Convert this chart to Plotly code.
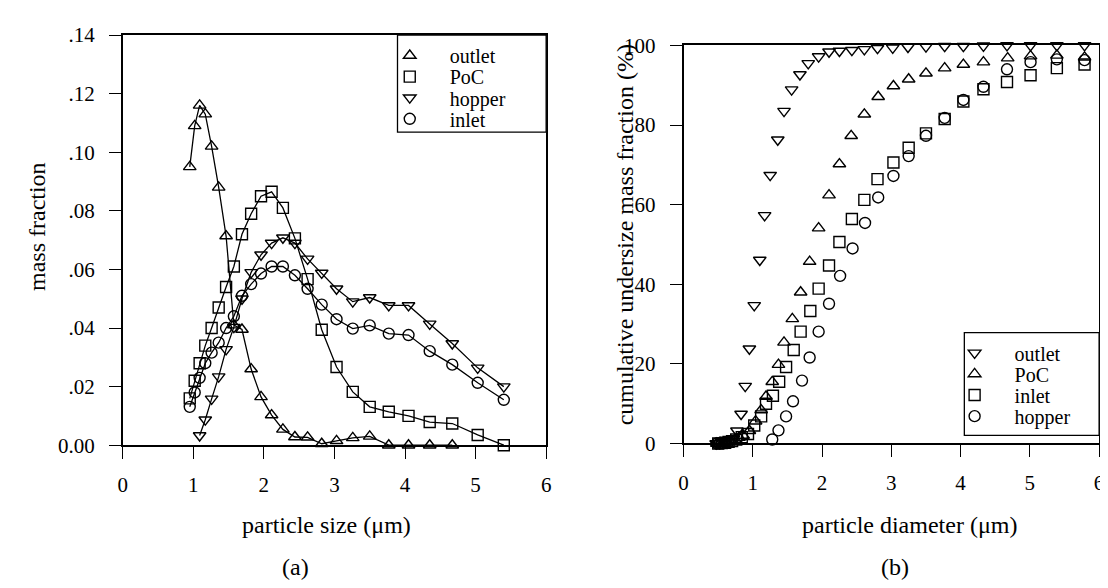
import plotly.graph_objects as go

W, H = 1108, 588

# ---------------- panel (a): mass fraction vs particle size ----------------
size_bins = [0.95, 1.02, 1.09, 1.17, 1.26, 1.36, 1.465, 1.575, 1.69, 1.82, 1.96, 2.11, 2.27,
             2.44, 2.62, 2.82, 3.03, 3.26, 3.50, 3.77, 4.05, 4.35, 4.67, 5.03, 5.40]

a_outlet_x = size_bins[:23]
a_outlet_y = [0.095, 0.109, 0.116, 0.113, 0.102, 0.088, 0.0714, 0.041, 0.0395, 0.026, 0.0165,
              0.0103, 0.0054, 0.0028, 0.0027, 0.0005, 0.0015, 0.0025, 0.003, 0.0, 0.0, 0.0, 0.0]

a_poc_x = size_bins
a_poc_y = [0.016, 0.022, 0.028, 0.034, 0.040, 0.047, 0.054, 0.061, 0.072, 0.079, 0.085, 0.0865,
           0.081, 0.0706, 0.0567, 0.0394, 0.0267, 0.0182, 0.0131, 0.0114, 0.0100, 0.0079, 0.0074,
           0.0035, 0.0]

a_hopper_x = size_bins[2:]
a_hopper_y = [0.0033, 0.0087, 0.0158, 0.0234, 0.0327, 0.0403, 0.050, 0.059, 0.065, 0.069, 0.0708,
              0.069, 0.0636, 0.0588, 0.0534, 0.049, 0.0504, 0.0477, 0.0477, 0.0414, 0.0347, 0.0264,
              0.020]

a_inlet_x = size_bins
a_inlet_y = [0.0131, 0.018, 0.023, 0.028, 0.0316, 0.035, 0.040, 0.044, 0.051, 0.055, 0.0586, 0.061,
             0.061, 0.058, 0.0534, 0.048, 0.043, 0.0398, 0.0409, 0.0381, 0.0376, 0.0321, 0.0275,
             0.0213, 0.0155]

a_yticks = [0, 0.02, 0.04, 0.06, 0.08, 0.10, 0.12, 0.14]
a_yticktext = ["0.00", ".02", ".04", ".06", ".08", ".10", ".12", ".14"]

# ---------------- panel (b): cumulative undersize vs diameter ----------------
b_outlet_x = [0.47, 0.52, 0.57, 0.62, 0.67, 0.72, 0.77, 0.83, 0.89, 0.95, 1.02, 1.10, 1.17, 1.25,
              1.36, 1.45, 1.56, 1.68, 1.80, 1.95, 2.10, 2.25, 2.43, 2.61, 2.80, 3.02, 3.24, 3.50,
              3.77, 4.04, 4.33, 4.67, 5.01, 5.39, 5.79]
b_outlet_y = [0.0, 0.1, 0.2, 0.4, 0.7, 1.2, 3.2, 7.4, 14.4, 23.8, 34.7, 46.1, 57.3, 67.4, 76.3,
              83.5, 88.9, 92.7, 95.5, 97.2, 98.4, 98.6, 98.8, 99.0, 99.3, 99.4, 99.6, 99.7, 99.8,
              99.8, 99.9, 100, 100, 100, 100]

b_poc_x = [0.48, 0.53, 0.58, 0.63, 0.68, 0.74, 0.80, 0.86, 0.95, 1.04, 1.12, 1.19, 1.28, 1.37,
           1.45, 1.57, 1.69, 1.82, 1.95, 2.10, 2.25, 2.42, 2.61, 2.81, 3.03, 3.25, 3.50, 3.77,
           4.04, 4.33, 4.68, 5.01, 5.39, 5.79]
b_poc_y = [0.0, 0.1, 0.2, 0.4, 0.7, 1.0, 1.5, 2.0, 3.2, 5.6, 8.4, 11.8, 15.5, 19.8, 25.4, 31.3,
           38.0, 45.7, 54.1, 62.4, 70.2, 77.3, 82.7, 87.1, 89.8, 91.5, 93.0, 94.3, 95.2, 95.8,
           96.8, 97.3, 97.5, 97.0]

b_inlet_x = [0.50, 0.55, 0.60, 0.65, 0.70, 0.76, 0.84, 0.93, 1.02, 1.12, 1.19, 1.29, 1.38, 1.48,
             1.59, 1.69, 1.83, 1.95, 2.10, 2.25, 2.43, 2.61, 2.80, 3.03, 3.25, 3.50, 3.77, 4.04,
             4.33, 4.67, 5.01, 5.39, 5.79]
b_inlet_y = [0.0, 0.1, 0.2, 0.4, 0.6, 1.0, 1.6, 2.4, 4.5, 6.8, 10.0, 12.0, 15.5, 19.2, 23.5, 28.1,
             33.3, 38.9, 44.7, 50.6, 56.4, 61.2, 66.4, 70.6, 74.3, 77.9, 81.5, 85.9, 89.0, 90.8,
             92.5, 94.3, 95.2]

b_hopper_x = [0.48, 0.52, 0.56, 0.60, 0.64, 1.28, 1.37, 1.48, 1.58, 1.71, 1.82, 1.95, 2.10, 2.26,
              2.44, 2.62, 2.81, 3.03, 3.25, 3.50, 3.77, 4.04, 4.33, 4.67, 5.01, 5.39, 5.79]
b_hopper_y = [0.0, 0.0, 0.1, 0.2, 0.3, 1.0, 3.3, 6.8, 10.6, 15.8, 21.6, 28.1, 35.1, 42.1, 49.0,
              55.4, 61.8, 67.2, 72.2, 77.3, 81.8, 86.3, 89.6, 94.0, 95.8, 96.5, 96.3]

x_ticks = [0, 1, 2, 3, 4, 5, 6]
b_yticks = [0, 20, 40, 60, 80, 100]

FONT = "Liberation Serif"


def fx(p):
    return p / W


def fy(p):
    return 1 - p / H


fig = go.Figure()

a_series = [
    ("outlet", a_outlet_x, a_outlet_y, "triangle-up-open"),
    ("PoC", a_poc_x, a_poc_y, "square-open"),
    ("hopper", a_hopper_x, a_hopper_y, "triangle-down-open"),
    ("inlet", a_inlet_x, a_inlet_y, "circle-open"),
]
b_series = [
    ("outlet", b_outlet_x, b_outlet_y, "triangle-down-open"),
    ("PoC", b_poc_x, b_poc_y, "triangle-up-open"),
    ("inlet", b_inlet_x, b_inlet_y, "square-open"),
    ("hopper", b_hopper_x, b_hopper_y, "circle-open"),
]

# legend boxes (pixel geometry) and entry rows
A_BOX = (388, 538, 15.7, 117)
A_ROWS = [37, 59, 81, 103]
B_BOX = (960, 1096, 326, 433)
B_ROWS = [347, 369, 391, 413]

for name, xs, ys, sym in a_series:
    fig.add_trace(go.Scatter(x=xs, y=ys, mode="lines", xaxis="x", yaxis="y",
                             line=dict(color="black", width=1.3), showlegend=False,
                             hoverinfo="skip"))

legend_layouts = {}
li = 1
for (name, xs, ys, sym), row in zip(a_series, A_ROWS):
    key = "legend" if li == 1 else f"legend{li}"
    fig.add_trace(go.Scatter(x=xs, y=ys, mode="markers", xaxis="x", yaxis="y", name=name,
                             legend=key, cliponaxis=False,
                             marker=dict(symbol=sym, size=11, color="black",
                                         line=dict(color="black", width=1.4))))
    legend_layouts[key] = dict(x=fx(A_BOX[0] - 28), y=fy(row), xanchor="left", yanchor="middle",
                               bgcolor="rgba(0,0,0,0)", borderwidth=0, itemwidth=70,
                               font=dict(family=FONT, size=20, color="black"))
    li += 1

for (name, xs, ys, sym), row in zip(b_series, B_ROWS):
    key = f"legend{li}"
    fig.add_trace(go.Scatter(x=xs, y=ys, mode="markers", xaxis="x2", yaxis="y2", name=name,
                             legend=key, cliponaxis=False,
                             marker=dict(symbol=sym, size=11, color="black",
                                         line=dict(color="black", width=1.4))))
    legend_layouts[key] = dict(x=fx(B_BOX[0] - 30), y=fy(row), xanchor="left", yanchor="middle",
                               bgcolor="rgba(0,0,0,0)", borderwidth=0, itemwidth=70,
                               font=dict(family=FONT, size=20, color="black"))
    li += 1

axis_common = dict(showline=True, linecolor="black", linewidth=1.6, mirror=True,
                   ticks="outside", ticklen=12, tickwidth=1.4, tickcolor="black",
                   showgrid=False, zeroline=False,
                   tickfont=dict(family=FONT, size=21, color="black"))

shapes = []
for (x0, x1, y0, y1) in (A_BOX, B_BOX):
    shapes.append(dict(type="rect", xref="paper", yref="paper", x0=fx(x0), x1=fx(x1),
                       y0=fy(y1), y1=fy(y0), line=dict(color="black", width=1.3),
                       fillcolor="white", layer="above"))

title_font = dict(family=FONT, size=24, color="black")
fig.update_layout(
    width=W, height=H,
    margin=dict(l=0, r=0, t=0, b=0),
    paper_bgcolor="white", plot_bgcolor="white",
    xaxis=dict(domain=[fx(110.7), fx(538)], range=[0, 6], tickvals=x_ticks,
               ticklabelstandoff=8, anchor="y", **axis_common),
    yaxis=dict(domain=[fy(443.3), fy(15.7)], range=[0, 0.14], tickvals=a_yticks,
               ticktext=a_yticktext, ticklabelstandoff=10, anchor="x", **axis_common),
    xaxis2=dict(domain=[fx(676.7), fx(1096)], range=[0, 6], tickvals=x_ticks,
                ticklabelstandoff=8, anchor="y2", **axis_common),
    yaxis2=dict(domain=[fy(441.5), fy(26.5)], range=[0, 100], tickvals=b_yticks,
                ticklabelstandoff=10, anchor="x2", **axis_common),
    shapes=shapes,
    annotations=[
        dict(text="particle size (\u03bcm)", x=fx(316), y=fy(527), xref="paper", yref="paper",
             xanchor="center", yanchor="middle", showarrow=False, font=title_font),
        dict(text="(a)", x=fx(285), y=fy(570), xref="paper", yref="paper",
             xanchor="center", yanchor="middle", showarrow=False, font=title_font),
        dict(text="particle diameter (\u03bcm)", x=fx(905), y=fy(527), xref="paper",
             yref="paper", xanchor="center", yanchor="middle", showarrow=False, font=title_font),
        dict(text="(b)", x=fx(890), y=fy(570), xref="paper", yref="paper",
             xanchor="center", yanchor="middle", showarrow=False, font=title_font),
        dict(text="mass fraction", x=fx(24), y=fy(215), xref="paper", yref="paper",
             xanchor="center", yanchor="middle", textangle=-90, showarrow=False,
             font=title_font),
        dict(text="cumulative undersize mass fraction (%)", x=fx(617), y=fy(224),
             xref="paper", yref="paper", xanchor="center", yanchor="middle", textangle=-90,
             showarrow=False, font=title_font),
    ],
)
fig.update_layout(**legend_layouts)

fig.write_html("out.html")
